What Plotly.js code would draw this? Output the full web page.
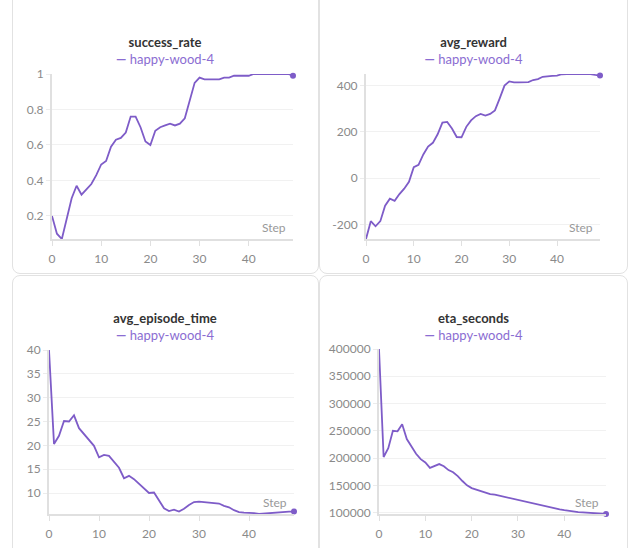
<!DOCTYPE html>
<html>
<head>
<meta charset="utf-8">
<script src="https://cdn.plot.ly/plotly-3.0.1.min.js"></script>
<style>
    body { margin: 0; background: #fff; width: 635px; height: 548px; overflow: hidden; position: relative; }
    .card { position: absolute; border: 1px solid #e2e2e2; border-radius: 8px; box-sizing: border-box; }
    .plot { position: absolute; }
</style>
</head>
<body>
<div class="card" style="left:12px; top:-12px; width:307px; height:286px;"></div>
<div class="card" style="left:319px; top:-12px; width:309px; height:286px;"></div>
<div class="card" style="left:12px; top:275px; width:307px; height:290px;"></div>
<div class="card" style="left:319px; top:275px; width:309px; height:290px;"></div>

<div id="p1" class="plot" style="left:12px; top:0px; width:306px; height:274px;"></div>
<div id="p2" class="plot" style="left:320px; top:0px; width:307px; height:274px;"></div>
<div id="p3" class="plot" style="left:12px; top:276px; width:306px; height:272px;"></div>
<div id="p4" class="plot" style="left:320px; top:276px; width:307px; height:272px;"></div>

<script>
const runName = "happy-wood-4";

const steps = [];
for (let i = 0; i < 50; i++) steps.push(i);

const successRate = [
    0.20, 0.10, 0.07, 0.18, 0.30, 0.37, 0.32, 0.35, 0.38, 0.43,
    0.49, 0.51, 0.59, 0.63, 0.64, 0.67, 0.76, 0.76, 0.70, 0.62,
    0.60, 0.68, 0.70, 0.71, 0.72, 0.71, 0.72, 0.75, 0.85, 0.95,
    0.98, 0.97, 0.97, 0.97, 0.97, 0.98, 0.98, 0.99, 0.99, 0.99,
    0.99, 1.00, 1.00, 1.00, 1.00, 1.00, 1.00, 1.00, 1.00, 0.99
];

const avgReward = [
    -262, -185, -207, -185, -118, -88, -97, -68, -45, -15,
    48, 58, 103, 137, 153, 190, 240, 243, 215, 178,
    177, 222, 250, 268, 278, 271, 278, 293, 345, 400,
    418, 414, 414, 414, 415, 424, 428, 438, 441, 442,
    443, 449, 450, 450, 450, 450, 450, 450, 446, 443
];

const avgEpisodeTime = [
    40.0, 20.3, 22.0, 25.1, 25.0, 26.3, 23.6, 22.4, 21.0, 19.9,
    17.5, 18.0, 17.8, 16.6, 15.3, 13.1, 13.6, 12.9, 12.0, 11.0,
    10.0, 10.1, 8.4, 6.8, 6.2, 6.5, 6.1, 6.7, 7.5, 8.1,
    8.2, 8.1, 8.0, 7.9, 7.8, 7.3, 7.0, 6.4, 6.0, 5.9,
    5.9, 5.8, 5.6, 5.7, 5.8, 5.9, 6.0, 6.0, 6.1, 6.1
];

const etaSeconds = [
    400000, 202000, 218000, 250000, 249000, 262000, 235000, 222000, 208000, 198000,
    192000, 182000, 185000, 189000, 185000, 178000, 174000, 167000, 158000, 150000,
    145000, 142000, 139000, 136000, 134000, 133000, 131000, 130000, 128000, 125000,
    123000, 121000, 119000, 117000, 115000, 113000, 111000, 109000, 107500, 106000,
    104500, 103000, 102000, 101000, 100500, 100000, 99000, 98500, 98000, 97500
];

const rewardTicks = [-200, 0, 200, 400];
const rewardTickText = ["-200", "0", "200", "400"];

const lineColor = "#7e5cc8";
const legendColor = "#8b6dd2";
const fontFamily = "Lato, 'Open Sans', sans-serif";

function drawPanel(divId, title, yData, margin, yaxisExtra) {
    const n = steps.length;
    const traces = [
        {
            x: steps,
            y: yData,
            mode: "lines",
            line: { color: lineColor, width: 1.8 },
            showlegend: false,
            hoverinfo: "skip"
        },
        {
            // marker on the last point only
            x: [steps[n - 1]],
            y: [yData[n - 1]],
            mode: "markers",
            marker: { color: lineColor, size: 6 },
            cliponaxis: false,
            showlegend: false,
            hoverinfo: "skip"
        }
    ];

    const el = document.getElementById(divId);
    const h = el.offsetHeight;

    const yaxis = Object.assign({
        range: [Math.min(...yData), Math.max(...yData)],
        showgrid: true,
        gridcolor: "#f1f1f1",
        gridwidth: 1,
        zeroline: false,
        showline: true,
        linecolor: "#e0e0e0",
        linewidth: 2,
        ticks: "outside",
        ticklen: 4,
        tickcolor: "#ececec",
        tickfont: { family: fontFamily, size: 12, color: "#8a8a8a" },
        fixedrange: true
    }, yaxisExtra);

    const layout = {
        width: el.offsetWidth,
        height: h,
        margin: margin,
        paper_bgcolor: "rgba(0,0,0,0)",
        plot_bgcolor: "#fff",
        font: { family: fontFamily },
        title: {
            text: "<b>" + title + "</b><br><span style='color:" + legendColor + "; font-size:13px'><b>\u2014</b> " + runName + "</span>",
            font: { family: fontFamily, size: 13, color: "#333" },
            xref: "container",
            yref: "container",
            x: 0.5,
            xanchor: "center",
            y: 1 - 47 / h,
            yanchor: "top"
        },
        xaxis: {
            range: [0, 49],
            dtick: 10,
            tick0: 0,
            showgrid: false,
            zeroline: false,
            showline: true,
            linecolor: "#e0e0e0",
            linewidth: 2,
            ticks: "outside",
            ticklen: 5,
            tickcolor: "#e0e0e0",
            ticklabelstandoff: 3,
            tickfont: { family: fontFamily, size: 12, color: "#8a8a8a" },
            fixedrange: true
        },
        yaxis: yaxis,
        annotations: [{
            text: "Step",
            xref: "paper",
            yref: "paper",
            x: 1,
            y: 0,
            xanchor: "right",
            yanchor: "bottom",
            xshift: -5,
            yshift: 2,
            showarrow: false,
            font: { family: fontFamily, size: 12, color: "#999" }
        }]
    };

    Plotly.newPlot(divId, traces, layout, { displayModeBar: false, staticPlot: true });
}

drawPanel("p1", "success_rate", successRate,
    { l: 40, r: 25, t: 74, b: 35 },
    { dtick: 0.2, tick0: 0 });

drawPanel("p2", "avg_reward", avgReward,
    { l: 46, r: 27, t: 74, b: 35 },
    { tickvals: rewardTicks, ticktext: rewardTickText });

drawPanel("p3", "avg_episode_time", avgEpisodeTime,
    { l: 37, r: 24, t: 74, b: 34 },
    { dtick: 5, tick0: 0 });

drawPanel("p4", "eta_seconds", etaSeconds,
    { l: 59, r: 21, t: 73, b: 34 },
    { dtick: 50000, tick0: 0, tickformat: "d" });
</script>
</body>
</html>
